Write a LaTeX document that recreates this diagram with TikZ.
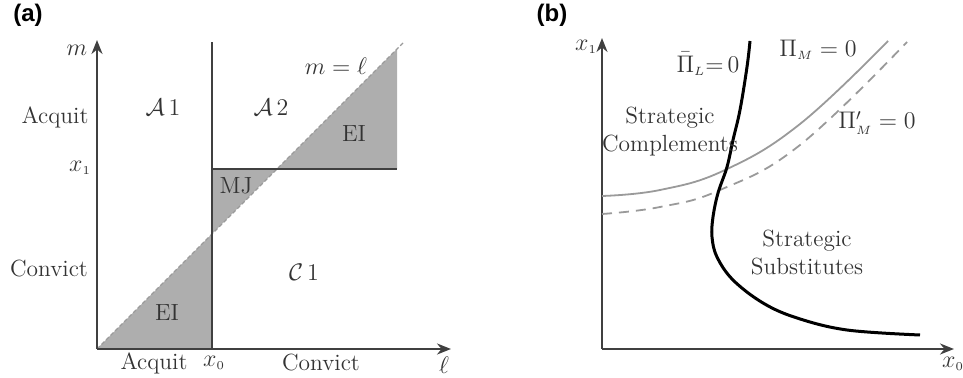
\documentclass[tikz,border=0pt]{standalone}
\usepackage{fontspec}
\newfontfamily\panelfont{Liberation Sans}
\usetikzlibrary{arrows.meta}
\definecolor{axiscol}{HTML}{404040}
\definecolor{txtcol}{HTML}{333333}
\definecolor{shadecol}{HTML}{AEAEAE}
\definecolor{curvegray}{HTML}{9A9A9A}
\tikzset{
  axis/.style={draw=axiscol, line width=1pt, -{Stealth[length=7pt,width=5.5pt]}},
  regline/.style={draw=axiscol, line width=1pt},
  diag/.style={draw=curvegray, line width=0.6pt, dash pattern=on 2pt off 1.2pt},
  shade/.style={fill=shadecol},
  lbl/.style={text=txtcol, inner sep=0pt, font=\fontsize{11.7}{14}\selectfont},
  panel/.style={text=black, inner sep=0pt, font=\panelfont\bfseries\fontsize{12}{14}\selectfont},
  thickcurve/.style={draw=black, line width=1.5pt},
  graycurve/.style={draw=curvegray, line width=0.9pt},
  dashcurve/.style={draw=curvegray, line width=0.9pt, dash pattern=on 5pt off 3.5pt},
}
\begin{document}
\begin{tikzpicture}[x=0.5pt,y=-0.5pt]
\useasboundingbox (0,0) rectangle (963,378);
% ---------- panel (a) ----------
\node[panel] (pa) at (28,15) {(a)};
\coordinate (oa) at (97,349);
\coordinate (ya) at (97,40);
\coordinate (xa) at (451,349);
\coordinate (x0b) at (212,349);
\coordinate (x0t) at (212,42);
\coordinate (dg1) at (212,234);
\coordinate (dg2) at (277,169);
\coordinate (hx1) at (397,169);
\coordinate (eitop) at (397,49);
\coordinate (dgend) at (403,43);
\fill[shade] (oa) -- (x0b) -- (dg1) -- cycle;
\fill[shade] (dg1) -- (x0b |- dg2) -- (dg2) -- cycle;
\fill[shade] (dg2) -- (hx1) -- (eitop) -- cycle;
\draw[diag] (oa) -- (dgend);
\draw[regline] (x0b) -- (x0t);
\draw[regline] (x0b |- dg2) -- (hx1);
\draw[axis] (oa) -- (ya);
\draw[axis] (oa) -- (xa);
\node[lbl] (lm) at (77,50) {$m$};
\node[lbl] (lacq) at (55,117) {Acquit};
\node[lbl] (lx1) at (80,168) {$x_{\scriptscriptstyle 1}$};
\node[lbl] (lconv) at (49,269) {Convict};
\node[lbl] (la1) at (163,107) {$\mathcal{A}\,1$};
\node[lbl] (la2) at (271,107) {$\mathcal{A}\,2$};
\node[lbl] (lml) at (336,66) {$m=\ell$};
\node[lbl] (lei1) at (354,134) {EI};
\node[lbl] (lmj) at (236,186) {MJ};
\node[lbl] (lc1) at (304,272) {$\mathcal{C}\,1$};
\node[lbl] (lei2) at (167,313) {EI};
\node[lbl] (bacq) at (154,363) {Acquit};
\node[lbl] (bx0) at (214,363) {$x_{\scriptscriptstyle 0}$};
\node[lbl] (bconv) at (321,363) {Convict};
\node[lbl] (bell) at (444,365) {$\ell$};
% ---------- panel (b) ----------
\node[panel] (pb) at (552,15) {(b)};
\coordinate (ob) at (602,349);
\coordinate (yb) at (602,38);
\coordinate (xb) at (954,349);
\draw[axis] (ob) -- (yb);
\draw[axis] (ob) -- (xb);
\draw[graycurve] plot[smooth, tension=0.7] coordinates {(602,196) (660,190) (725,170) (800,124) (888,41)};
\draw[dashcurve] plot[smooth, tension=0.7] coordinates {(602,214) (660,207) (720,190) (800,145) (907,42)};
\draw[thickcurve] plot[smooth, tension=0.6] coordinates {(750,41) (747,67) (740,110) (733,140) (727,167) (718,193) (713,217) (712,237) (717,257) (733,280) (763,303) (797,318) (847,330) (920,335)};
\node[lbl] (bx1) at (586,47) {$x_{\scriptscriptstyle 1}$};
\node[lbl] (bx0b) at (953,364) {$x_{\scriptscriptstyle 0}$};
\node[lbl] (lpil) at (708,64) {$\bar{\Pi}_{\scriptscriptstyle L}{=}\,0$};
\node[lbl] (lpim) at (818,50) {$\Pi_{\scriptscriptstyle M} = 0$};
\node[lbl] (lpimp) at (877,123) {$\Pi'_{\scriptscriptstyle M} = 0$};
\node[lbl, align=center] (lcomp) at (670,132) {Strategic\\Complements};
\node[lbl, align=center] (lsubs) at (807,253) {Strategic\\Substitutes};
\end{tikzpicture}
\end{document}
